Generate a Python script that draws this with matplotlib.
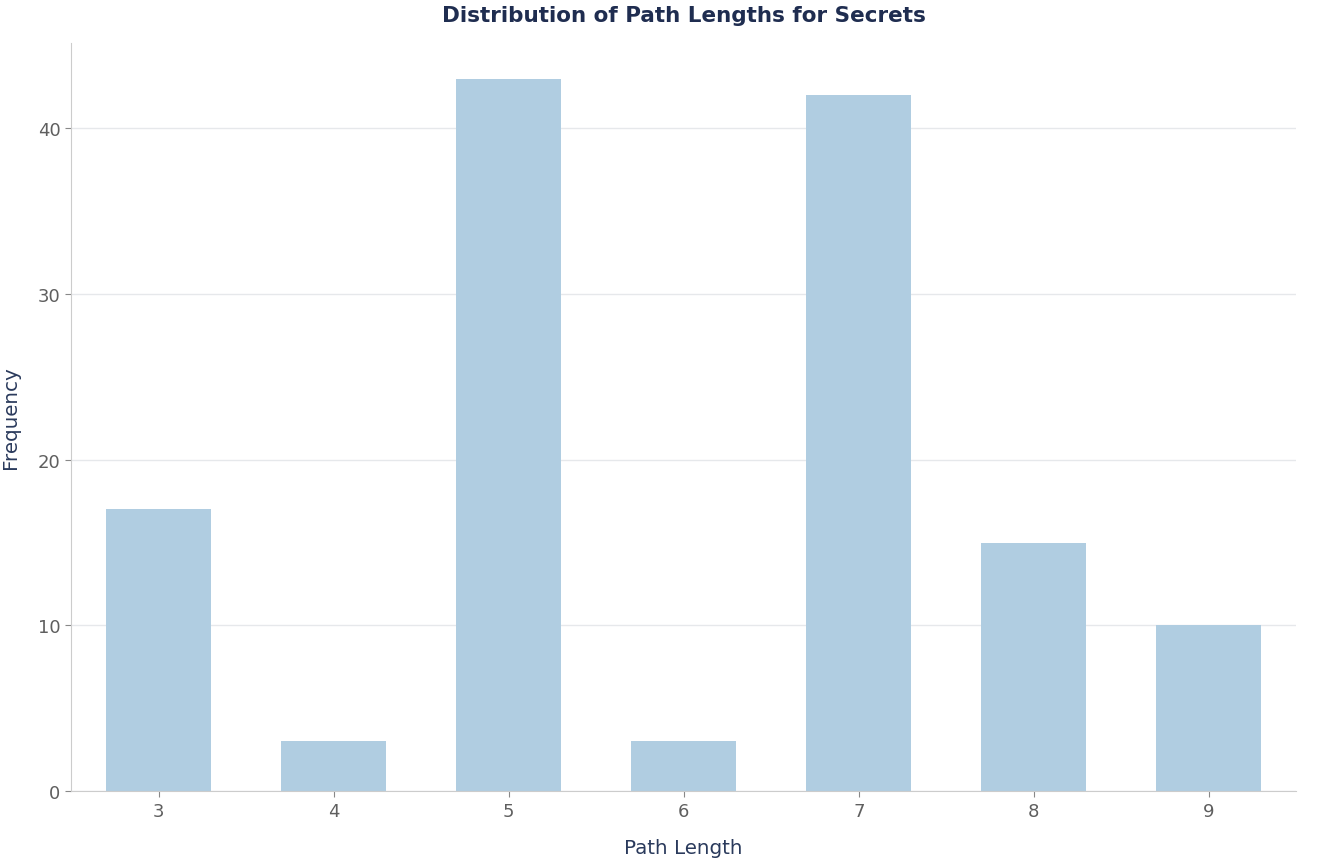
import numpy as np
import matplotlib
matplotlib.use("Agg")
import matplotlib.pyplot as plt

path_lengths = [3, 4, 5, 6, 7, 8, 9]
frequencies = [17, 3, 43, 3, 42, 15, 10]

plt.rcParams['font.family'] = ['DejaVu Sans']

fig, ax = plt.subplots(figsize=(13.27, 8.62), dpi=100)
fig.subplots_adjust(left=0.0535, right=0.977, top=0.949, bottom=0.081)

ax.bar(path_lengths, frequencies, width=0.6, color='#b0cde1', zorder=2)

ax.set_xlim(2.5, 9.5)
ax.set_ylim(0, max(frequencies) * 1.05)
ax.set_xticks(path_lengths)
ax.set_yticks([0, 10, 20, 30, 40])

ax.grid(axis='y', color='#e6e8eb', linewidth=1, zorder=0)
ax.grid(axis='x', visible=False)
for s in ['top', 'right']:
    ax.spines[s].set_visible(False)
for s in ['left', 'bottom']:
    ax.spines[s].set_color('#cccccc')
ax.tick_params(colors='#888888', labelcolor='#5f5f5f', labelsize=13, length=4)

ax.set_xlabel('Path Length', fontsize=14.3, color='#2a3a5c', labelpad=13)
ax.set_ylabel('Frequency', fontsize=14.3, color='#2a3a5c', labelpad=13)
ax.set_title('Distribution of Path Lengths for Secrets', fontsize=15.5, fontweight='bold',
             color='#1f2d50', pad=16)

fig.savefig('out.png', dpi=100)
